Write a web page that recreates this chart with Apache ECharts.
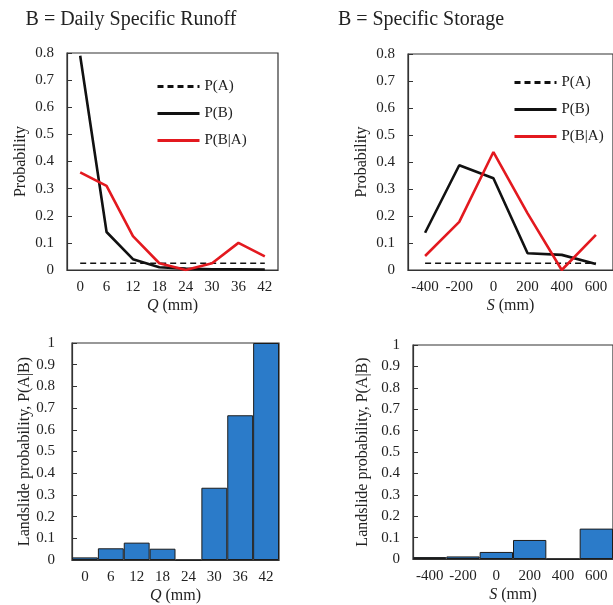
<!DOCTYPE html>
<html>
<head>
<meta charset="utf-8">
<script src="https://cdn.jsdelivr.net/npm/echarts@6/dist/echarts.min.js"></script>
<style>
  html, body { margin: 0; padding: 0; background: #fff; }
  #chart { width: 613px; height: 605px; }
</style>
</head>
<body>
<div id="chart"></div>
<script>
// runoff panels (left)
const qCats = ['0', '6', '12', '18', '24', '30', '36', '42']
const qPA = [0.025, 0.025, 0.025, 0.025, 0.025, 0.025, 0.025, 0.025]
const qPB = [0.79, 0.14, 0.04, 0.01, 0.005, 0.003, 0.003, 0.002]
const qPBA = [0.36, 0.31, 0.125, 0.025, 0.0, 0.025, 0.10, 0.05]
const qPAB = [0.012, 0.054, 0.08, 0.052, 0, 0.333, 0.667, 1.0]

// storage panels (right)
const sCats = ['-400', '-200', '0', '200', '400', '600']
const sPA = [0.025, 0.025, 0.025, 0.025, 0.025, 0.025]
const sPB = [0.138, 0.388, 0.34, 0.062, 0.056, 0.022]
const sPBA = [0.052, 0.178, 0.437, 0.21, 0.0, 0.13]
const sPAB = [0.009, 0.012, 0.033, 0.089, 0, 0.142]

const titles = ['B = Daily Specific Runoff', 'B = Specific Storage']
const legendNames = ['P(A)', 'P(B)', 'P(B|A)']

const FONT = '"Liberation Serif", "DejaVu Serif", serif'
const INK = '#222'
const BOX = '#333'

const chart = echarts.init(document.getElementById('chart'))

// plot boxes
const grids = [
  { left: 67, top: 53, width: 211, height: 217 },
  { left: 408, top: 54, width: 211, height: 216 },
  { left: 72, top: 343, width: 207, height: 218 },
  { left: 413, top: 345, width: 207, height: 214 }
].map(g => Object.assign({ show: true, borderColor: BOX, borderWidth: 1.2, containLabel: false }, g))

function xAxisFor(idx, cats, sym) {
  return {
    type: 'category',
    gridIndex: idx,
    data: cats,
    boundaryGap: true,
    axisLine: { lineStyle: { color: BOX, width: 1.2 } },
    axisTick: { inside: true, length: 5, lineStyle: { color: BOX } },
    axisLabel: { color: INK, fontFamily: FONT, fontSize: 15, margin: 10, interval: 0 },
    name: '{i|' + sym + '} (mm)',
    nameLocation: 'middle',
    nameGap: 28,
    nameTextStyle: {
      color: INK, fontFamily: FONT, fontSize: 16,
      rich: { i: { fontStyle: 'italic', fontFamily: FONT, fontSize: 16, color: INK } }
    }
  }
}

function yAxisFor(idx, max, name, margin, gap) {
  return {
    type: 'value',
    gridIndex: idx,
    min: 0,
    max: max,
    interval: 0.1,
    splitLine: { show: false },
    axisLine: { show: true, lineStyle: { color: BOX, width: 1.2 } },
    axisTick: { show: true, inside: true, length: 5, lineStyle: { color: BOX } },
    axisLabel: { color: INK, fontFamily: FONT, fontSize: 15, margin: margin },
    name: name,
    nameLocation: 'middle',
    nameGap: gap,
    nameTextStyle: { color: INK, fontFamily: FONT, fontSize: 16 }
  }
}

function lineSet(idx, pa, pb, pba) {
  return [
    { name: 'P(A)', type: 'line', xAxisIndex: idx, yAxisIndex: idx, data: pa, symbol: 'none',
      lineStyle: { color: '#111', width: 1.6, type: [6, 4] }, itemStyle: { color: '#111' } },
    { name: 'P(B)', type: 'line', xAxisIndex: idx, yAxisIndex: idx, data: pb, symbol: 'none',
      lineStyle: { color: '#111', width: 2.6 }, itemStyle: { color: '#111' } },
    { name: 'P(B|A)', type: 'line', xAxisIndex: idx, yAxisIndex: idx, data: pba, symbol: 'none',
      lineStyle: { color: '#e3191f', width: 2.6 }, itemStyle: { color: '#e3191f' } }
  ]
}

function barSet(idx, vals) {
  return {
    type: 'bar', xAxisIndex: idx, yAxisIndex: idx, data: vals,
    barCategoryGap: '0%',
    itemStyle: { color: '#2b7bc9', borderColor: '#1c1c1c', borderWidth: 1 }
  }
}

// legend shows only the line sample, no marker
function legendAt(left, top) {
  return {
    data: legendNames,
    orient: 'vertical',
    left: left,
    top: top,
    itemWidth: 42,
    itemHeight: 14,
    itemGap: 12,
    selectedMode: false,
    itemStyle: { opacity: 0, borderWidth: 0 },
    lineStyle: { width: 3 },
    textStyle: { color: INK, fontFamily: FONT, fontSize: 15 }
  }
}

const option = {
  animation: false,
  backgroundColor: '#fff',
  title: [
    { text: titles[0], left: 126, top: 5, textAlign: 'center',
      textStyle: { fontFamily: FONT, fontSize: 20, fontWeight: 'normal', color: INK } },
    { text: titles[1], left: 416, top: 5, textAlign: 'center',
      textStyle: { fontFamily: FONT, fontSize: 20, fontWeight: 'normal', color: INK } }
  ],
  legend: [legendAt(151, 74), legendAt(508, 70)],
  grid: grids,
  xAxis: [
    xAxisFor(0, qCats, 'Q'),
    xAxisFor(1, sCats, 'S'),
    xAxisFor(2, qCats, 'Q'),
    xAxisFor(3, sCats, 'S')
  ],
  yAxis: [
    yAxisFor(0, 0.8, 'Probability', 13, 38),
    yAxisFor(1, 0.8, 'Probability', 13, 38),
    yAxisFor(2, 1, 'Landslide probability, P(A|B)', 17, 34),
    yAxisFor(3, 1, 'Landslide probability, P(A|B)', 13, 42)
  ],
  series: [
    ...lineSet(0, qPA, qPB, qPBA),
    ...lineSet(1, sPA, sPB, sPBA),
    barSet(2, qPAB),
    barSet(3, sPAB)
  ]
}

chart.setOption(option)
</script>
</body>
</html>
